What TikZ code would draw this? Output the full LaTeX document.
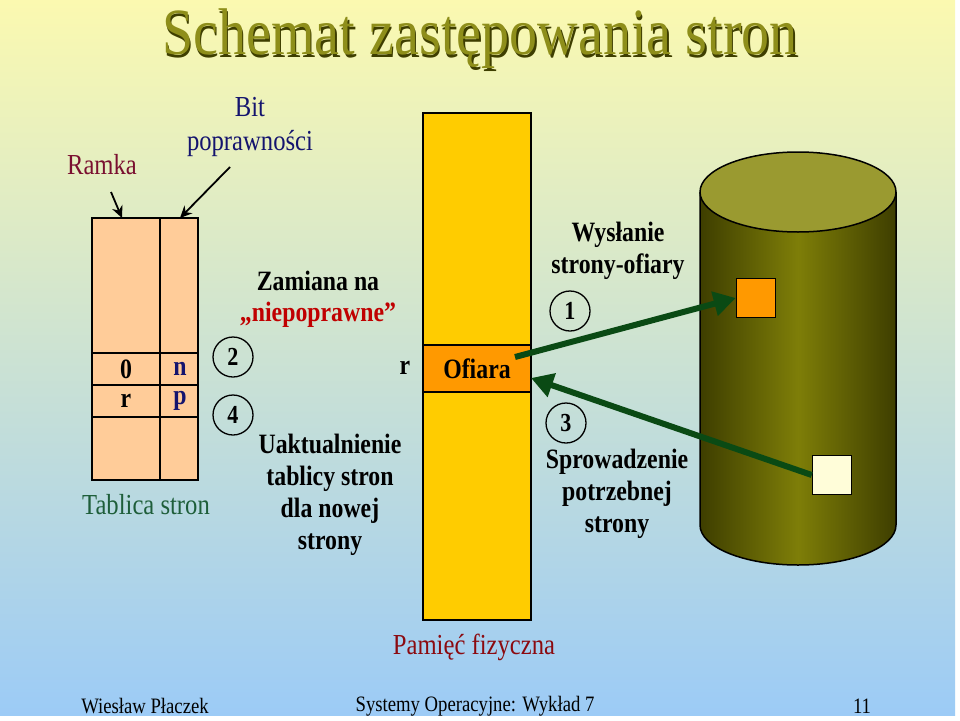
\documentclass[tikz,border=0pt]{standalone}
\usepackage{fontspec}
\setmainfont{Liberation Serif}[FakeStretch=0.85]
\usetikzlibrary{arrows.meta,shapes.geometric}
\definecolor{bgtop}{HTML}{FBF9B0}
\definecolor{bgbot}{HTML}{9CCBF6}
\definecolor{ramka}{HTML}{7A1030}
\definecolor{navy}{HTML}{14146E}
\definecolor{dred}{HTML}{8B0A10}
\definecolor{nred}{HTML}{C00000}
\definecolor{tgreen}{HTML}{1E5E3A}
\definecolor{peach}{HTML}{FFCC99}
\definecolor{memy}{HTML}{FFCC00}
\definecolor{memo}{HTML}{FF9900}
\definecolor{agreen}{HTML}{0A4A14}
\definecolor{olv}{HTML}{9A9A30}
\definecolor{olvd}{HTML}{3E3E00}
\definecolor{olvm}{HTML}{7E7E08}
\definecolor{titc}{HTML}{8E8E1A}
\tikzset{
 lbl/.style={font=\fontsize{28}{31}\selectfont\bfseries,align=center,inner sep=0},
 txt/.style={font=\fontsize{29}{32}\selectfont,align=center,inner sep=0},
 num/.style={draw,line width=1.3pt,circle,minimum size=40pt,inner sep=0,font=\fontsize{26}{28}\selectfont\bfseries},
 cell/.style={draw,line width=1.5pt,fill=peach},
 bigarr/.style={-{Triangle[length=22pt,width=24pt]},line width=6pt,agreen},
 thin/.style={-{Stealth[length=12pt,width=11pt]},line width=1.8pt},
 foot/.style={font=\fontsize{22}{24}\selectfont,inner sep=0}
}
\begin{document}
\begin{tikzpicture}[x=1pt,y=-1pt]
\useasboundingbox (0,0) rectangle (960,720);
\fill[white] (0,0) rectangle (960,720);
\shade[top color=bgtop,bottom color=bgbot,middle color=bgtop!50!bgbot] (0,0) rectangle (955,715);
% title
\node[font=\fontsize{66}{70}\selectfont,inner sep=0] (title) at (480,40) {\makebox[0pt]{\hspace*{3pt}\raisebox{-3pt}{\color{olvd}Schemat zastępowania stron}}\makebox[0pt]{\color{titc}Schemat zastępowania stron}};
% labels top-left
\node[txt,ramka] (ramka) at (102,165) {Ramka};
\node[txt,navy] (bit) at (250,127) {Bit\\[2pt]poprawności};
% table
\draw[cell] (92,218) rectangle (198,480);
\draw[line width=1.5pt] (160,218) -- (160,480) (92,353) -- (198,353) (92,385) -- (198,385) (92,417) -- (198,417);
\node[lbl] (t0) at (126,369) {0};
\node[lbl,navy] (tn) at (180,369) {n};
\node[lbl] (tr) at (126,401) {r};
\node[lbl,navy] (tp) at (180,401) {p};
\coordinate (ta) at (122,218);
\coordinate (tb) at (180,218);
\coordinate (ra) at (111,192);
\coordinate (ba) at (230,167);
\draw[thin] (ra) -- (ta);
\draw[thin] (ba) -- (tb);
\node[txt,tgreen] (tab) at (146,505) {Tablica stron};
% middle
\node[num] (c2) at (233,357) {2};
\node[num] (c4) at (233,415) {4};
\node[lbl] (zam) at (318,281) {Zamiana na};
\node[lbl,nred] (niep) at (318,315) {„niepoprawne”};
\node[lbl] (r) at (405,368) {r};
\node[lbl] (uakt) at (330,495) {Uaktualnienie\\[1pt]tablicy stron\\[1pt]dla nowej\\[1pt]strony};
% memory
\draw[line width=1.5pt,fill=memy] (423,113) rectangle (531,620);
\draw[line width=1.5pt,fill=memo] (423,345) rectangle (531,392);
\node[lbl] (ofiara) at (477,369) {Ofiara};
\node[txt,dred] (pam) at (474,647) {Pamięć fizyczna};
% disk
\shade[left color=olvd,right color=olvd,middle color=olvm] (700,192) -- (700,525) arc[start angle=180,end angle=0,x radius=98,y radius=40] -- (896,192) -- cycle;
\draw[line width=1.5pt] (700,192) -- (700,525) arc[start angle=180,end angle=0,x radius=98,y radius=40] -- (896,192);
\draw[line width=1.5pt,fill=olv] (798,192) ellipse[x radius=98,y radius=40];
\node[draw,line width=1.5pt,fill=memo,minimum size=39pt,inner sep=0] (sq1) at (756,298) {};
\node[draw,line width=1.5pt,fill=yellow!15,minimum size=39pt,inner sep=0] (sq2) at (832,475) {};
\node[lbl] (wys) at (618,251) {Wysłanie\\[1pt]strony-ofiary};
\node[num] (c1) at (570,311) {1};
\node[num] (c3) at (566,423) {3};
\node[lbl] (spr) at (617,494) {Sprowadzenie\\[1pt]potrzebnej\\[1pt]strony};
\coordinate (o1) at (515,357);
\coordinate (o2) at (531,378);
\draw[bigarr] (o1) -- (sq1.west);
\draw[bigarr] (sq2.west) -- (o2);
% footer
\node[foot] (f1) at (145,706) {Wiesław Płaczek};
\node[foot] (f2) at (475,706) {Systemy Operacyjne: Wykład 7};
\node[foot] (f3) at (862,706) {11};
\end{tikzpicture}
\end{document}
